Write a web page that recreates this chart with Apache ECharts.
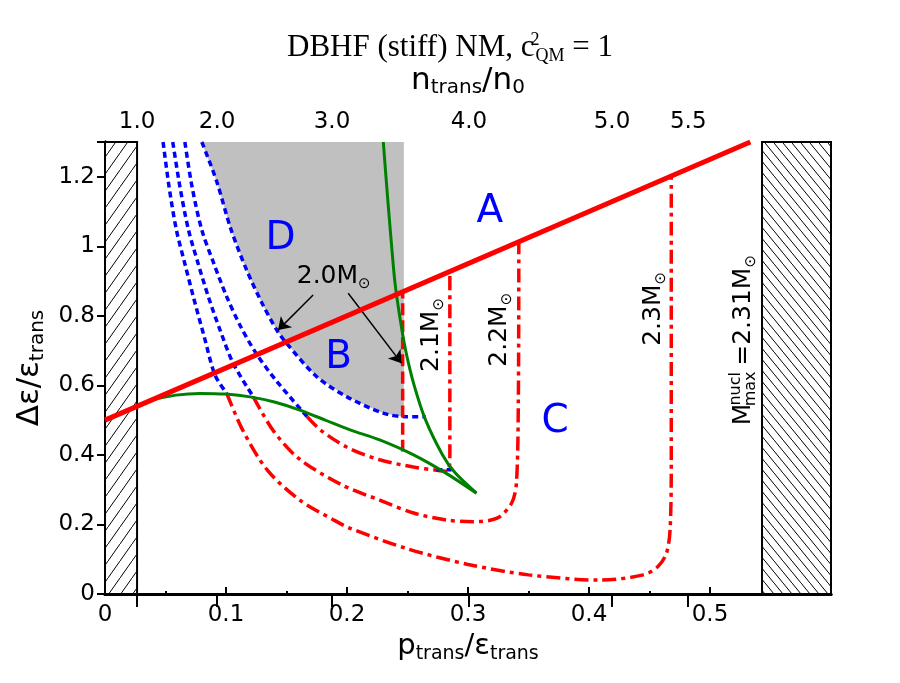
<!DOCTYPE html>
<html>
<head>
<meta charset="utf-8">
<script src="https://cdn.jsdelivr.net/npm/echarts@6/dist/echarts.min.js"></script>
<style>html,body{margin:0;padding:0;background:#fff}#c{width:900px;height:683px}</style>
</head>
<body>
<div id="c"></div>
<script>
// ---- data ----
const topTickValues = [0.0265, 0.0926, 0.1876, 0.3008, 0.419, 0.482];
const topTickLabels = ['1.0', '2.0', '3.0', '4.0', '5.0', '5.5'];
const yTickValues = [0, 0.2, 0.4, 0.6, 0.8, 1.0, 1.2];
const xMinorTicks = [0.05, 0.15, 0.25, 0.35, 0.45, 0.55];
const yMinorTicks = [0.1, 0.3, 0.5, 0.7, 0.9, 1.1];

const lineA = [[0, 0.5], [0.5333, 1.3]];

const blue23 = [[0.048,1.30],[0.053,1.17],[0.059,1.047],[0.066,0.95],[0.073,0.855],[0.082,0.74],[0.0909,0.63],[0.1006,0.577]];
const blue22 = [[0.056,1.30],[0.062,1.17],[0.069,1.047],[0.077,0.95],[0.0854,0.855],[0.095,0.76],[0.106,0.663],[0.1226,0.567]];
const blue21 = [[0.066,1.30],[0.072,1.17],[0.080,1.047],[0.090,0.95],[0.1006,0.855],[0.112,0.77],[0.124,0.697],[0.14,0.62],[0.167,0.51]];
const blue20 = [[0.080,1.30],[0.092,1.19],[0.104,1.05],[0.117,0.932],[0.130,0.835],[0.142,0.759],[0.150,0.721],[0.175,0.625],[0.200,0.567],[0.230,0.52],[0.249,0.51],[0.265,0.51]];
const blue21Bottom = [[0.274,0.357],[0.2865,0.357]];

const red23 = [[0.1006,0.577],[0.114,0.47],[0.134,0.357],[0.161,0.27],[0.189,0.213],[0.2025,0.189],[0.25,0.13],[0.30,0.085],[0.35,0.055],[0.409,0.04],[0.445,0.055],[0.457,0.079],[0.464,0.117],[0.467,0.184],[0.468,0.376],[0.468,1.202]];
const red22 = [[0.1226,0.567],[0.139,0.47],[0.16,0.39],[0.195,0.315],[0.227,0.27],[0.255,0.233],[0.282,0.213],[0.304,0.208],[0.324,0.218],[0.336,0.261],[0.340,0.318],[0.3416,0.558],[0.342,1.013]];
const red21 = [[0.167,0.51],[0.178,0.472],[0.20,0.422],[0.227,0.386],[0.255,0.365],[0.274,0.356],[0.283,0.353],[0.285,0.40],[0.285,0.927]];
const red20 = [[0.246,0.41],[0.246,0.869]];

const greenUpper = [[0.230,1.30],[0.2322,1.20],[0.2345,1.10],[0.2369,1.00],[0.2395,0.90],[0.2435,0.80],[0.2485,0.70],[0.2555,0.60],[0.265,0.50],[0.279,0.40],[0.289,0.35],[0.307,0.29]];
const greenLower = [[0.0386,0.558],[0.0585,0.572],[0.0785,0.577],[0.10,0.575],[0.12,0.567],[0.14,0.552],[0.161,0.529],[0.182,0.50],[0.2025,0.472],[0.227,0.443],[0.255,0.40],[0.282,0.347],[0.307,0.29]];

const grayRegion = [[0.080,1.30],[0.092,1.19],[0.104,1.05],[0.117,0.932],[0.130,0.835],[0.142,0.759],[0.150,0.721],[0.175,0.625],[0.200,0.567],[0.230,0.52],[0.247,0.51],[0.247,1.30]];

const hatchLeft = [0, 0.0265];
const hatchRight = [0.543, 0.6];

// ---- patterns ----
function hatch(w, h, dir) {
  const c = document.createElement('canvas');
  c.width = w; c.height = h;
  const g = c.getContext('2d');
  g.fillStyle = '#fff'; g.fillRect(0, 0, w, h);
  g.strokeStyle = '#000'; g.lineWidth = 1;
  g.beginPath();
  if (dir === '/') {
    g.moveTo(-w, 2 * h); g.lineTo(2 * w, -h);
  } else {
    g.moveTo(-w, -h); g.lineTo(2 * w, 2 * h);
  }
  g.stroke();
  return c;
}

const chart = echarts.init(document.getElementById('c'), null, {renderer: 'canvas'});
const FONT = 'DejaVu Sans';
const RED = '#ff0000', BLUE = '#0000ff', GREEN = '#008000';

function lineSeries(data, color, width, type, z) {
  return {type: 'line', data: data, showSymbol: false, symbol: 'none', smooth: 0.3,
    lineStyle: {color: color, width: width, type: type}, z: z || 3, silent: true, animation: false};
}

const labelRich = {
  a: {fontFamily: FONT, fontSize: 25, color: '#000', lineHeight: 30},
  s: {fontFamily: FONT, fontSize: 15, color: '#000', lineHeight: 15, verticalAlign: 'bottom'},
  sp: {fontFamily: FONT, fontSize: 16, lineHeight: 16, width: 38},
  small: {fontFamily: FONT, fontSize: 16, color: '#000', lineHeight: 15}
};

function txt(x, y, formatter, opts) {
  return {value: [x, y], label: Object.assign({show: true, position: 'inside', formatter: formatter, rich: labelRich, opacity: 1}, opts || {})};
}
function letter(x, y, t) {
  return {value: [x, y], label: {show: true, position: 'inside', formatter: t, fontFamily: FONT, fontSize: 39, color: BLUE, opacity: 1}};
}

function tickOnlyAxis(base, values, len) {
  return Object.assign(base, {
    axisLine: {show: false}, splitLine: {show: false}, axisLabel: {show: false},
    axisTick: {show: true, inside: true, length: len, customValues: values, lineStyle: {color: '#000', width: 2}}
  });
}

const option = {
  animation: false,
  backgroundColor: '#fff',
  title: {
    text: '{t|DBHF (stiff) NM, c}{sup|2}{sub|QM}{t| = 1}',
    left: 'center', top: 26,
    textStyle: {fontWeight: 'normal', rich: {
      t: {fontFamily: 'Liberation Serif', fontSize: 31, color: '#000', lineHeight: 34, fontWeight: 'normal'},
      sup: {fontFamily: 'Liberation Serif', fontSize: 18, color: '#000', verticalAlign: 'top', lineHeight: 16, width: 1, align: 'left', fontWeight: 'normal'},
      sub: {fontFamily: 'Liberation Serif', fontSize: 18, color: '#000', verticalAlign: 'bottom', lineHeight: 16, align: 'left', fontWeight: 'normal'}
    }}
  },
  grid: {left: 105, right: 69, top: 142, bottom: 89, containLabel: false},
  xAxis: [{
    type: 'value', min: 0, max: 0.6, interval: 0.1, position: 'bottom',
    axisLine: {lineStyle: {color: '#000', width: 3}},
    axisTick: {inside: true, length: 7, lineStyle: {color: '#000', width: 2}},
    splitLine: {show: false},
    axisLabel: {fontFamily: FONT, fontSize: 23, color: '#000', margin: 10,
      formatter: v => (v === 0 ? '0' : v.toFixed(1)), showMaxLabel: false},
    name: '{m|p}{s|trans}{m|/ε}{s|trans}', nameLocation: 'middle', nameGap: 30,
    nameTextStyle: {rich: {
      m: {fontFamily: FONT, fontSize: 29, color: '#000', lineHeight: 34},
      s: {fontFamily: FONT, fontSize: 19, color: '#000', lineHeight: 22, verticalAlign: 'bottom'}
    }}
  }, {
    type: 'value', min: 0, max: 0.6, position: 'top',
    axisLine: {lineStyle: {color: '#000', width: 3}},
    axisTick: {inside: true, length: 13, customValues: topTickValues, lineStyle: {color: '#000', width: 2}},
    splitLine: {show: false},
    axisLabel: {fontFamily: FONT, fontSize: 23, color: '#000', margin: 8, customValues: topTickValues,
      formatter: v => {
        let best = 0;
        topTickValues.forEach((t, i) => { if (Math.abs(t - v) < Math.abs(topTickValues[best] - v)) best = i; });
        return topTickLabels[best];
      }},
    name: '{m|n}{s|trans}{m|/n}{s|0}', nameLocation: 'middle', nameGap: 44,
    nameTextStyle: {rich: {
      m: {fontFamily: FONT, fontSize: 31, color: '#000', lineHeight: 34},
      s: {fontFamily: FONT, fontSize: 20, color: '#000', lineHeight: 20, verticalAlign: 'bottom'}
    }}
  },
  tickOnlyAxis({type: 'value', min: 0, max: 0.6, position: 'bottom'}, xMinorTicks, 3)
  ],
  yAxis: [{
    type: 'value', min: 0, max: 1.3, interval: 0.2, position: 'left',
    axisLine: {lineStyle: {color: '#000', width: 3}},
    axisTick: {inside: true, length: 8, lineStyle: {color: '#000', width: 2}},
    splitLine: {show: false},
    axisLabel: {fontFamily: FONT, fontSize: 23, color: '#000', margin: 10, customValues: yTickValues,
      formatter: v => (Math.abs(v - 1) < 1e-9 ? '1' : (v === 0 ? '0' : v.toFixed(1)))},
    name: '{m|Δε/ε}{s|trans}', nameLocation: 'middle', nameGap: 52, nameRotate: 90,
    nameTextStyle: {rich: {
      m: {fontFamily: FONT, fontSize: 31, color: '#000', lineHeight: 36},
      s: {fontFamily: FONT, fontSize: 20, color: '#000', lineHeight: 22, verticalAlign: 'bottom'}
    }}
  }, {
    type: 'value', min: 0, max: 1.3, interval: 0.2, position: 'right',
    axisLine: {lineStyle: {color: '#000', width: 3}},
    axisTick: {inside: true, length: 8, lineStyle: {color: '#000', width: 2}},
    splitLine: {show: false}, axisLabel: {show: false}
  },
  tickOnlyAxis({type: 'value', min: 0, max: 1.3, position: 'left'}, yMinorTicks, 4)
  ],
  series: [
    {
      type: 'custom', silent: true, z: 1, data: [[0, 0]],
      renderItem: (params, api) => {
        const pts = grayRegion.map(p => api.coord(p));
        return {type: 'polygon', shape: {points: pts}, style: {fill: '#c0c0c0'}};
      }
    },
    {
      type: 'line', data: [], silent: true, z: 2,
      markArea: {silent: true, data: [
        [{coord: [hatchLeft[0], 0], itemStyle: {color: {image: hatch(12, 17, '/'), repeat: 'repeat'}, borderColor: '#000', borderWidth: 2, opacity: 1}}, {coord: [hatchLeft[1], 1.3]}],
        [{coord: [hatchRight[0], 0], itemStyle: {color: {image: hatch(9, 11, '\\'), repeat: 'repeat'}, borderColor: '#000', borderWidth: 2, opacity: 1}}, {coord: [hatchRight[1], 1.3]}]
      ]}
    },
    lineSeries(blue23, BLUE, 3.5, [6, 4]),
    lineSeries(blue22, BLUE, 3.5, [6, 4]),
    lineSeries(blue21, BLUE, 3.5, [6, 4]),
    lineSeries(blue20, BLUE, 3.5, [6, 4]),
    lineSeries(red23, RED, 3.5, [14, 5, 4, 5]),
    lineSeries(red22, RED, 3.5, [14, 5, 4, 5]),
    lineSeries(red21, RED, 3.5, [14, 5, 4, 5]),
    lineSeries(red20, RED, 3.5, [12, 5]),
    lineSeries(blue21Bottom, BLUE, 3.5, [6, 4]),
    lineSeries(greenUpper, GREEN, 3, 'solid', 4),
    lineSeries(greenLower, GREEN, 3, 'solid', 4),
    Object.assign(lineSeries(lineA, RED, 5, 'solid', 5), {smooth: false}),
    {
      type: 'scatter', symbolSize: 1, itemStyle: {color: 'rgba(0,0,0,0)', opacity: 1}, silent: true, z: 10,
      data: [
        letter(0.318, 1.10, 'A'),
        letter(0.193, 0.68, 'B'),
        letter(0.372, 0.496, 'C'),
        letter(0.145, 1.02, 'D'),
        txt(0.189, 0.913, '{a|2.0M}{s|⊙}'),
        txt(0.27, 0.745, '{a|2.1M}{s|⊙}', {rotate: 90}),
        txt(0.3264, 0.76, '{a|2.2M}{s|⊙}', {rotate: 90}),
        txt(0.453, 0.82, '{a|2.3M}{s|⊙}', {rotate: 90}),
        txt(0.5275, 0.73, '{a|M}{sp| }{a|=2.31M}{s|⊙}', {rotate: 90}),
        txt(0.5275, 0.59, '{small|nucl}\n{small|max}', {rotate: 90})
      ],
      markLine: {
        silent: true, symbol: ['none', 'arrow'], symbolSize: 12, label: {show: false},
        lineStyle: {color: '#000', width: 1.5, type: 'solid', opacity: 1},
        data: [
          [{coord: [0.172, 0.86]}, {coord: [0.143, 0.759]}],
          [{coord: [0.201, 0.865]}, {coord: [0.245, 0.664]}]
        ]
      }
    }
  ]
};
chart.setOption(option);
</script>
</body>
</html>
